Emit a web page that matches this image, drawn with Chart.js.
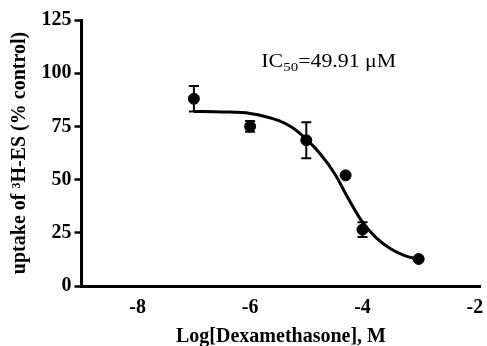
<!DOCTYPE html>
<html>
<head>
<meta charset="utf-8">
<script src="https://cdn.jsdelivr.net/npm/chart.js@4/dist/chart.umd.min.js"></script>
<style>
    html, body { margin: 0; padding: 0; background: #fff; }
    #wrap { width: 487px; height: 346px; }
</style>
</head>
<body>
<div id="wrap"><canvas id="ic50Chart"></canvas></div>
<script>
// measured points
const doseLog = [-7, -6, -5, -4.3, -4, -3];
const uptakeMean = [88, 75, 68.5, 52, 26.5, 12.7];
const uptakeErr = [6, 2.5, 8.5, 0, 3.5, 0];

// fitted curve
const fitLog = [-7, -6.5, -6, -5.5, -5.25, -5, -4.75, -4.5, -4.25, -4, -3.75, -3.5, -3.25, -3];
const fitUptake = [82, 81.8, 81.1, 77.8, 74.5, 69, 62, 53, 41, 30, 22.5, 17.5, 14.3, 12.5];

const xTicks = [-8, -6, -4, -2];
const icLabel = { pre: "IC", sub: "50", post: "=49.91 μM", x: -5.8, y: 103 };

const serif = "'Liberation Serif', 'Times New Roman', serif";

document.addEventListener("DOMContentLoaded", function () {
    var ctx = document.getElementById("ic50Chart").getContext("2d");

    // error bars + IC50 text
    const extras = {
        id: "extras",
        afterDatasetsDraw(chart) {
            const c = chart.ctx;
            const xs = chart.scales.x;
            const ys = chart.scales.y;
            c.save();
            c.strokeStyle = "#000";
            c.lineWidth = 2;
            doseLog.forEach((d, i) => {
                if (!uptakeErr[i]) return;
                const px = xs.getPixelForValue(d);
                const top = ys.getPixelForValue(uptakeMean[i] + uptakeErr[i]);
                const bot = ys.getPixelForValue(uptakeMean[i] - uptakeErr[i]);
                c.beginPath();
                c.moveTo(px, top);
                c.lineTo(px, bot);
                c.moveTo(px - 5, top);
                c.lineTo(px + 5, top);
                c.moveTo(px - 5, bot);
                c.lineTo(px + 5, bot);
                c.stroke();
            });

            // label with subscript (slightly widened like the original)
            c.translate(xs.getPixelForValue(icLabel.x), ys.getPixelForValue(icLabel.y));
            c.scale(1.15, 1);
            let lx = 0;
            c.fillStyle = "#000";
            c.textBaseline = "alphabetic";
            c.font = "19px " + serif;
            c.fillText(icLabel.pre, lx, 0);
            lx += c.measureText(icLabel.pre).width;
            c.font = "13px " + serif;
            c.fillText(icLabel.sub, lx, 4);
            lx += c.measureText(icLabel.sub).width;
            c.font = "19px " + serif;
            c.fillText(icLabel.post, lx, 0);
            c.restore();
        },
    };

    new Chart(ctx, {
        type: "scatter",
        data: {
            datasets: [
                {
                    label: "fit",
                    data: fitLog.map((x, i) => ({ x: x, y: fitUptake[i] })),
                    showLine: true,
                    borderColor: "#000",
                    borderWidth: 3,
                    pointRadius: 0,
                    cubicInterpolationMode: "monotone",
                },
                {
                    label: "uptake",
                    data: doseLog.map((x, i) => ({ x: x, y: uptakeMean[i] })),
                    backgroundColor: "#000",
                    borderColor: "#000",
                    pointRadius: 5.5,
                    pointHoverRadius: 5.5,
                },
            ],
        },
        options: {
            responsive: true,
            maintainAspectRatio: false,
            animation: false,
            layout: { padding: { top: 20, right: 3, left: 0, bottom: 0 } },
            plugins: {
                legend: { display: false },
                tooltip: { enabled: false },
            },
            scales: {
                x: {
                    type: "linear",
                    min: -9,
                    max: -1.9,
                    afterBuildTicks: (axis) => {
                        axis.ticks = xTicks.map((v) => ({ value: v }));
                    },
                    afterFit: (axis) => {
                        axis.height = 60;
                        axis.paddingLeft = 0;
                        axis.paddingRight = 0;
                    },
                    border: { display: true, color: "#000", width: 3 },
                    grid: { display: true, drawOnChartArea: false, drawTicks: false, color: "rgba(0,0,0,0)" },
                    ticks: {
                        color: "#000",
                        padding: 10,
                        font: { family: serif, size: 20, weight: "bold" },
                        callback: (v) => "-" + Math.abs(v),
                    },
                    title: {
                        display: true,
                        text: "Log[Dexamethasone], M",
                        color: "#000",
                        padding: { top: 0, bottom: 0 },
                        font: { family: serif, size: 20, weight: "bold", lineHeight: 0.95 },
                    },
                },
                y: {
                    min: 0,
                    max: 125,
                    afterFit: (axis) => {
                        axis.width = 81.5;
                    },
                    border: { display: true, color: "#000", width: 3 },
                    grid: {
                        drawOnChartArea: false,
                        drawTicks: true,
                        tickLength: 7,
                        tickWidth: 2.5,
                        tickColor: "#000",
                        color: "#000",
                    },
                    ticks: {
                        stepSize: 25,
                        color: "#000",
                        padding: 3,
                        font: { family: serif, size: 20, weight: "bold" },
                    },
                    title: {
                        display: true,
                        text: "uptake of ³H-ES (% control)",
                        color: "#000",
                        padding: { top: 8, bottom: 0 },
                        font: { family: serif, size: 20, weight: "bold", lineHeight: 1.2 },
                    },
                },
            },
        },
        plugins: [extras],
    });
});
</script>
</body>
</html>
